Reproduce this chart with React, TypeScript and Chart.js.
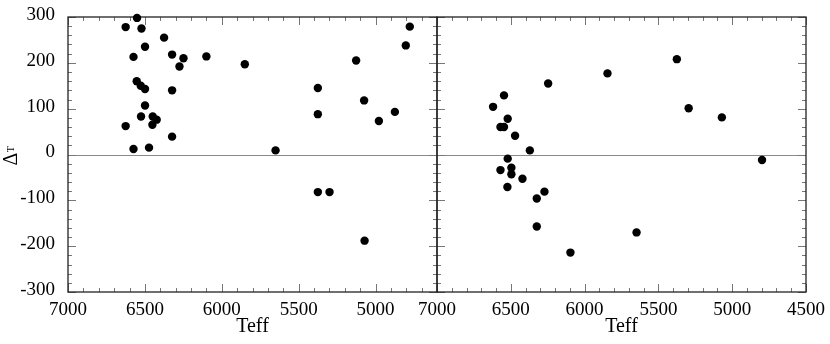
import React, { useEffect, useRef } from 'react';
import { Chart, registerables } from 'chart.js';

Chart.register(...registerables);

// Left panel
const leftTeff = [6551, 6625, 6522, 6375, 6499, 6574, 6323, 6249, 6275, 6100, 5850, 6553, 6527, 6499, 6323, 6499, 6525, 6449, 6423, 6451, 6625, 6323, 6574, 6473, 5650, 5375, 5375, 5126, 5074, 4978, 4874, 4803, 4777, 5375, 5299, 5071];
const leftDelta = [298, 278, 275, 255, 235, 213, 218, 210, 192, 214, 197, 160, 150, 143, 140, 107, 83, 83, 76, 65, 62, 39, 12, 15, 9, 145, 88, 205, 118, 73, 93, 238, 279, -82, -82, -188];

// Right panel
const rightTeff = [5375, 5845, 6247, 6546, 6620, 6521, 6570, 6546, 6471, 6371, 5295, 5070, 4798, 6521, 6570, 6496, 6496, 6421, 6523, 6272, 6324, 6324, 5648, 6096];
const rightDelta = [208, 177, 155, 129, 104, 78, 60, 60, 41, 9, 101, 81, -12, -9, -34, -29, -43, -53, -71, -81, -96, -157, -170, -214];

const xTicksLeft = [7000, 6500, 6000, 5500, 5000];
const xTicksRight = [7000, 6500, 6000, 5500, 5000, 4500];
const yTicks = [-300, -200, -100, 0, 100, 200, 300];

const xTitle = 'Teff';
const yTitleMain = 'Δ';
const yTitleSub = 'T';

const FONT = '"Liberation Serif", "DejaVu Serif", serif';

const framePlugin = {
  id: 'frame',
  beforeDatasetsDraw(chart: any) {
    const ctx = chart.ctx;
    const ys = chart.scales.y;
    const panels = [chart.scales.xL, chart.scales.xR];
    const top = ys.getPixelForValue(300);
    const bottom = ys.getPixelForValue(-300);
    const zero = ys.getPixelForValue(0);
    ctx.save();
    // zero line
    ctx.strokeStyle = '#8a8a8a';
    ctx.lineWidth = 1;
    ctx.beginPath();
    ctx.moveTo(panels[0].left, Math.round(zero) + 0.5);
    ctx.lineTo(panels[1].right, Math.round(zero) + 0.5);
    ctx.stroke();
    // ticks
    ctx.strokeStyle = '#777';
    ctx.lineWidth = 1;
    ctx.beginPath();
    for (const s of panels) {
      const lo = s.min, hi = s.max;
      for (let v = Math.ceil(lo / 100) * 100; v <= hi; v += 100) {
        const px = Math.round(s.getPixelForValue(v)) + 0.5;
        const len = v % 500 === 0 ? 8 : 4;
        ctx.moveTo(px, bottom);
        ctx.lineTo(px, bottom - len);
        ctx.moveTo(px, top);
        ctx.lineTo(px, top + len);
      }
      const l = s.left, r = s.right;
      for (let v = -300; v <= 300; v += 20) {
        const py = Math.round(ys.getPixelForValue(v)) + 0.5;
        const len = v % 100 === 0 ? 8 : 4;
        ctx.moveTo(l, py);
        ctx.lineTo(l + len, py);
        ctx.moveTo(r, py);
        ctx.lineTo(r - len, py);
      }
    }
    ctx.stroke();
    // frames
    ctx.strokeStyle = '#222';
    ctx.lineWidth = 1.3;
    for (const s of panels) {
      ctx.strokeRect(s.left, top, s.right - s.left, bottom - top);
    }
    ctx.restore();
  },
  afterDraw(chart: any) {
    const ctx = chart.ctx;
    const ys = chart.scales.y;
    const cy = ys.getPixelForValue(0);
    ctx.save();
    ctx.translate(12, cy + 1);
    ctx.rotate(-Math.PI / 2);
    ctx.fillStyle = '#000';
    ctx.textBaseline = 'alphabetic';
    ctx.textAlign = 'left';
    ctx.font = `20px ${FONT}`;
    ctx.fillText(yTitleMain, -10, 5);
    const w = ctx.measureText(yTitleMain).width;
    ctx.font = `10px ${FONT}`;
    ctx.fillText(yTitleSub, -10 + w + 0.5, 2);
    ctx.restore();
  },
};

function xScale(min: number, max: number, ticks: number[]) {
  return {
    type: 'linear',
    position: 'bottom',
    stack: 'teff',
    stackWeight: 1,
    reverse: true,
    min,
    max,
    afterBuildTicks: (s: any) => {
      s.ticks = ticks.map((v) => ({ value: v }));
    },
    afterFit: (s: any) => {
      s.height = 52;
      s.paddingLeft = 0;
      s.paddingRight = 0;
    },
    grid: { display: false, drawTicks: false },
    border: { display: false },
    ticks: {
      autoSkip: false,
      maxRotation: 0,
      padding: 7,
      color: '#000',
      font: { family: FONT, size: 19 },
      callback: (v: any) => String(v),
    },
    title: {
      display: true,
      text: xTitle,
      color: '#000',
      font: { family: FONT, size: 20 },
      padding: { top: 0, bottom: 5 },
    },
  };
}

export default function App() {
  const ref = useRef<HTMLCanvasElement | null>(null);
  useEffect(() => {
    if (!ref.current) return;
    const chart = new Chart(ref.current, {
      type: 'scatter',
      data: {
        datasets: [
          {
            data: leftTeff.map((x, i) => ({ x, y: leftDelta[i] })),
            xAxisID: 'xL',
            yAxisID: 'y',
            pointRadius: 4.2,
            pointHoverRadius: 4.2,
            pointBackgroundColor: '#000',
            pointBorderWidth: 0,
            clip: false,
          },
          {
            data: rightTeff.map((x, i) => ({ x, y: rightDelta[i] })),
            xAxisID: 'xR',
            yAxisID: 'y',
            pointRadius: 4.2,
            pointHoverRadius: 4.2,
            pointBackgroundColor: '#000',
            pointBorderWidth: 0,
            clip: false,
          },
        ],
      },
      options: {
        animation: false,
        responsive: false,
        maintainAspectRatio: false,
        layout: { padding: { top: 17, right: 24, bottom: 0, left: 0 } },
        plugins: { legend: { display: false }, tooltip: { enabled: false } },
        scales: {
          y: {
            type: 'linear',
            position: 'left',
            min: -300,
            max: 300,
            afterBuildTicks: (s: any) => {
              s.ticks = yTicks.map((v) => ({ value: v }));
            },
            afterFit: (s: any) => {
              s.width = 68;
              s.paddingTop = 0;
              s.paddingBottom = 0;
            },
            grid: { display: false, drawTicks: false },
            border: { display: false },
            ticks: {
              padding: 13,
              labelOffset: -2,
              color: '#000',
              font: { family: FONT, size: 19 },
              callback: (v: any) => String(v),
            },
          },
          xL: xScale(4600, 7000, xTicksLeft) as any,
          xR: xScale(4500, 7000, xTicksRight) as any,
        },
      } as any,
      plugins: [framePlugin],
    });
    return () => chart.destroy();
  }, []);
  return (
    <div style={{ position: 'fixed', left: 0, top: 0, width: 830, height: 344, background: '#fff' }}>
      <canvas ref={ref} width={830} height={344} style={{ display: 'block' }} />
    </div>
  );
}
